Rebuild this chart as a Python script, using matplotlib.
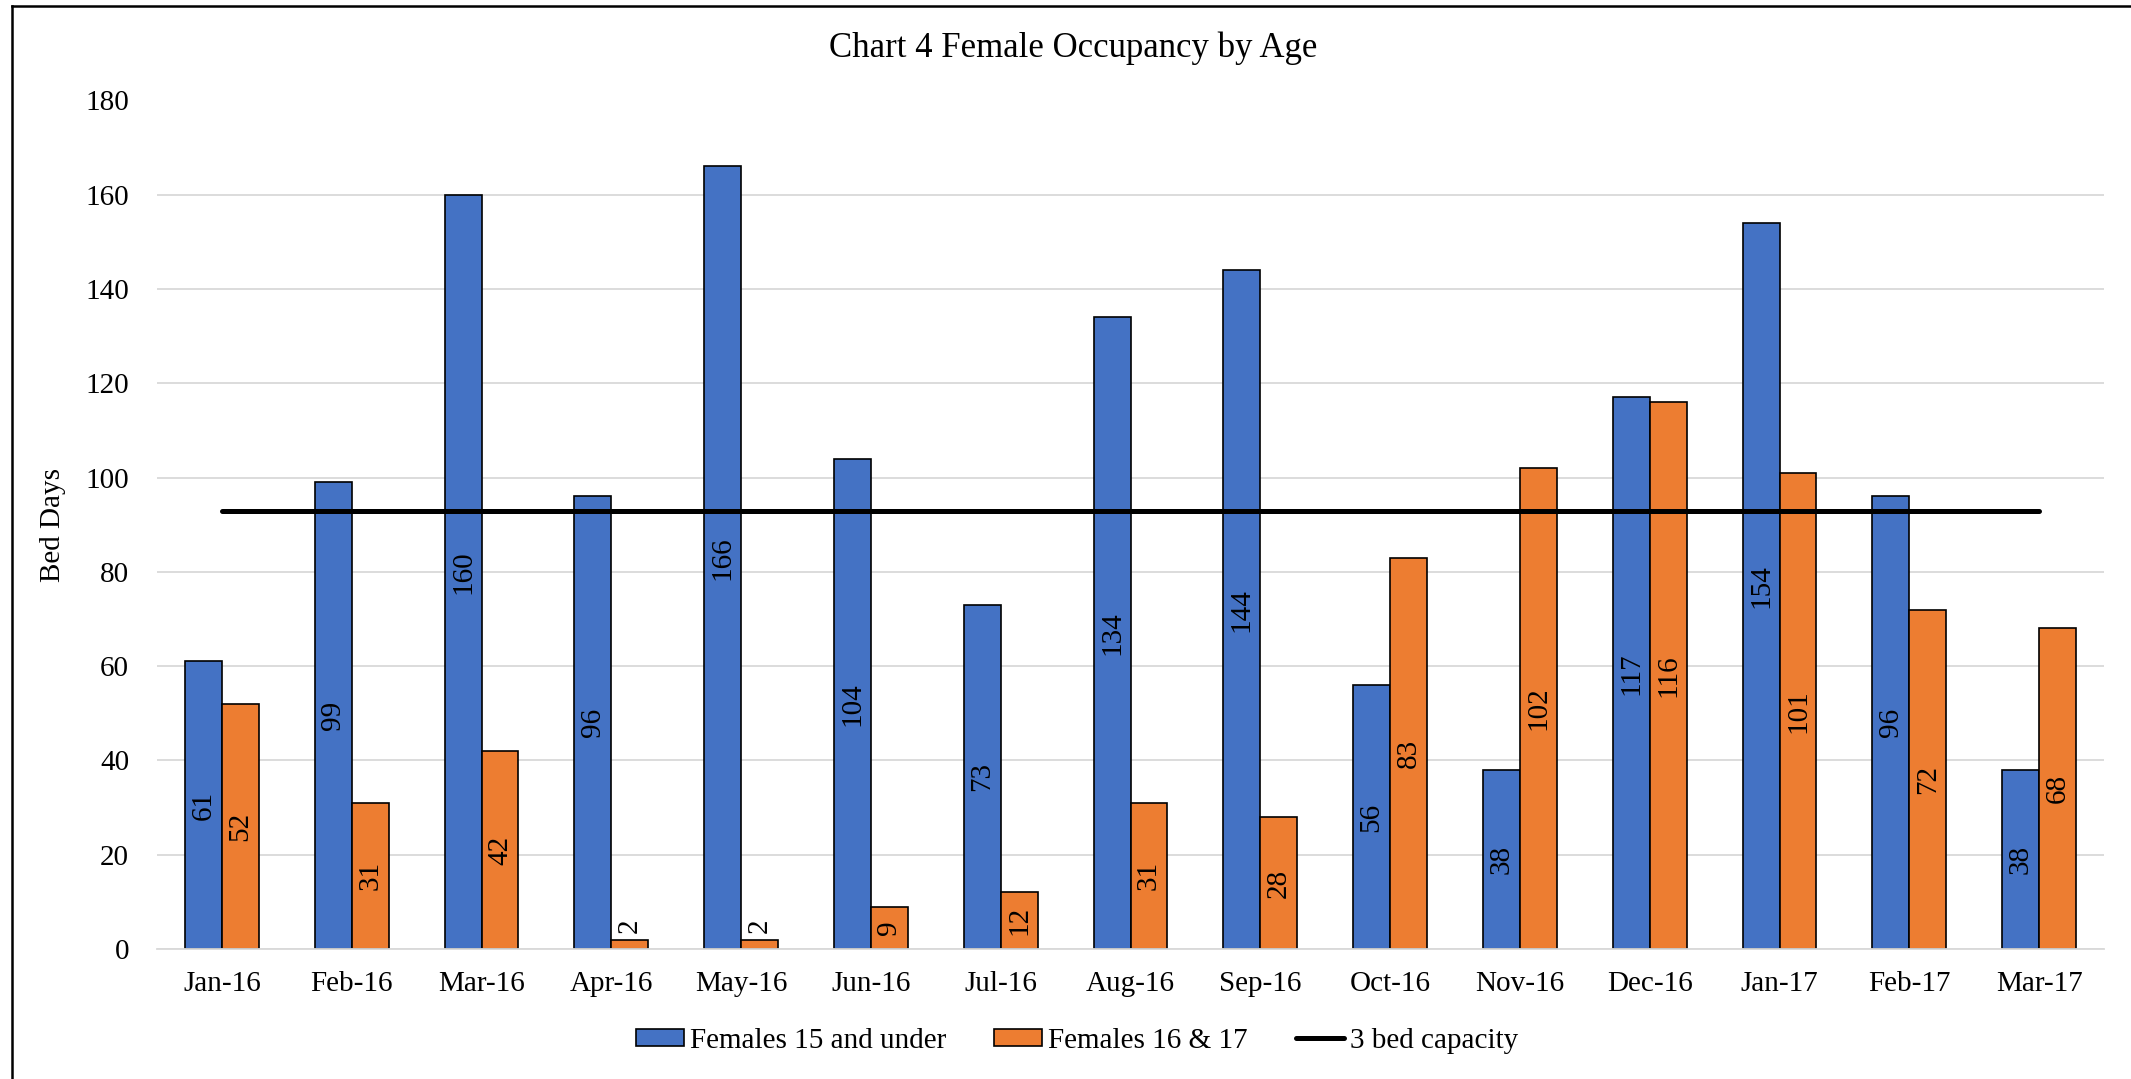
import numpy as np
import matplotlib
matplotlib.use("Agg")
import matplotlib.pyplot as plt
from matplotlib.lines import Line2D

plt.rcParams['font.family'] = ['Liberation Serif', 'DejaVu Serif']

months = ["Jan-16", "Feb-16", "Mar-16", "Apr-16", "May-16", "Jun-16", "Jul-16", "Aug-16",
          "Sep-16", "Oct-16", "Nov-16", "Dec-16", "Jan-17", "Feb-17", "Mar-17"]
under15 = [61, 99, 160, 96, 166, 104, 73, 134, 144, 56, 38, 117, 154, 96, 38]
age16_17 = [52, 31, 42, 2, 2, 9, 12, 31, 28, 83, 102, 116, 101, 72, 68]
capacity = [93] * len(months)
yticks = [0, 20, 40, 60, 80, 100, 120, 140, 160, 180]

W, H = 2131, 1079
fig = plt.figure(figsize=(W / 100, H / 100), dpi=100)
# plot area placed in pixels
x0, x1, ytop, ybot = 157, 2104, 100.5, 949
ax = fig.add_axes([x0 / W, 1 - ybot / H, (x1 - x0) / W, (ybot - ytop) / H])

x = np.arange(len(months))
bw = 0.285
blue = "#4472C4"
orange = "#ED7D31"

b1 = ax.bar(x - bw / 2, under15, bw, color=blue, edgecolor="black", linewidth=1.2, zorder=2,
            label="Females 15 and under")
b2 = ax.bar(x + bw / 2, age16_17, bw, color=orange, edgecolor="black", linewidth=1.2, zorder=2,
            label="Females 16 & 17")
cap_line, = ax.plot(x, capacity, color="black", linewidth=3.6, solid_capstyle="round", zorder=3,
                    label="3 bed capacity")

# data labels, rotated, centred in the bar (outside when the bar is too small)
for bars, vals in [(b1, under15), (b2, age16_17)]:
    for rect, v in zip(bars, vals):
        cx = rect.get_x() + rect.get_width() / 2
        if v < 5:
            ax.text(cx, v + 1.5, str(v), rotation=90, ha="center", va="bottom",
                    fontsize=21, zorder=4)
        else:
            ax.text(cx, v / 2, str(v), rotation=90, ha="center", va="center",
                    fontsize=21, zorder=4)

ax.set_xlim(-0.5, len(months) - 0.5)
ax.set_ylim(0, 180)
ax.set_yticks(yticks)
ax.set_xticks(x)
ax.set_xticklabels(months)
ax.tick_params(axis="both", length=0, labelsize=21)
ax.tick_params(axis="x", pad=16)
ax.tick_params(axis="y", pad=20)
ax.grid(axis="y", color="#d9d9d9", linewidth=1.3, zorder=0)
ax.set_axisbelow(True)
for s in ["top", "right", "left"]:
    ax.spines[s].set_visible(False)
ax.spines["bottom"].set_color("#d9d9d9")
ax.spines["bottom"].set_linewidth(1.3)

ax.set_ylabel("Bed Days", fontsize=21, labelpad=14)

fig.text(1073 / W, 1 - 48 / H, "Chart 4 Female Occupancy by Age", fontsize=25,
         ha="center", va="center")

ax.legend([b1, b2, cap_line], ["Females 15 and under", "Females 16 & 17", "3 bed capacity"],
          loc="center", bbox_to_anchor=(1077 / W, 1 - 1041 / H), bbox_transform=fig.transFigure,
          ncol=3, frameon=False, fontsize=21, handlelength=1.65, handleheight=0.55,
          handletextpad=0.2, columnspacing=1.65)

# outer chart border (left and top visible)
fig.add_artist(Line2D([11.5 / W, 11.5 / W], [0, 1 - 5.5 / H], color="black", linewidth=1.8,
                      transform=fig.transFigure))
fig.add_artist(Line2D([11.5 / W, 1], [1 - 5.5 / H, 1 - 5.5 / H], color="black", linewidth=1.8,
                      transform=fig.transFigure))

fig.savefig("out.png", dpi=100)
